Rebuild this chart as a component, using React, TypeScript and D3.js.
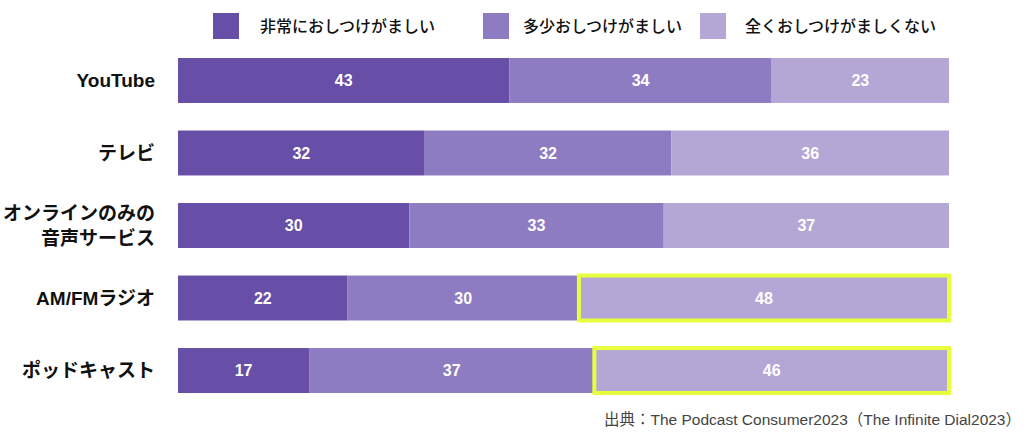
import React from "react";
import * as d3 from "d3";

const categories = ["YouTube", "テレビ", "オンラインのみの\n音声サービス", "AM/FMラジオ", "ポッドキャスト"];
const seriesNames = ["非常におしつけがましい", "多少おしつけがましい", "全くおしつけがましくない"];
const verySeries = [43, 32, 30, 22, 17];
const somewhatSeries = [34, 32, 33, 30, 37];
const notAtAllSeries = [23, 36, 37, 48, 46];
const highlighted = [false, false, false, true, true];
const sourceText = "出典：The Podcast Consumer2023（The Infinite Dial2023）";

const colors = ["#674ea7", "#8e7cc3", "#b4a7d6"];
const legendX = [213, 483, 700];
const FONT = "'Liberation Sans', Arial, 'Noto Sans CJK JP', sans-serif";

export default function App() {
  const W = 1024, H = 442;
  const x = d3.scaleLinear().domain([0, 100]).range([178, 949]);
  const y = d3.scaleBand<string>().domain(categories).range([58, 393]).paddingInner(0.38).paddingOuter(0);
  const series = [verySeries, somewhatSeries, notAtAllSeries];
  const rows = categories.map((c, i) => {
    let acc = 0;
    return series.map((s, k) => {
      const x0 = acc;
      acc += s[i];
      return { k, x0, x1: acc, v: s[i] };
    });
  });
  const bw = y.bandwidth();
  return (
    <svg width={W} height={H} style={{ position: "absolute", left: 0, top: 0, background: "#fff" }} fontFamily={FONT}>
      {seriesNames.map((n, k) => (
        <g key={n}>
          <rect x={legendX[k]} y={13} width={26} height={26} fill={colors[k]} />
          <text x={legendX[k] + (k === 0 ? 47 : k === 1 ? 40 : 45)} y={26} dy="0.35em" fontSize={16} fontWeight={500} fill="#111">{n}</text>
        </g>
      ))}
      {categories.map((c, i) => {
        const y0 = y(c)!;
        const lines = c.split("\n");
        return (
          <g key={c}>
            {lines.map((l, j) => (
              <text key={j} x={155} y={y0 + bw / 2 + (j - (lines.length - 1) / 2) * 25} dy="0.35em" textAnchor="end" fontSize={19} fontWeight="bold" fill="#111">{l}</text>
            ))}
            {rows[i].map((seg) => (
              <g key={seg.k}>
                <rect x={x(seg.x0)} y={y0} width={x(seg.x1) - x(seg.x0)} height={bw} fill={colors[seg.k]} />
                <text x={(x(seg.x0) + x(seg.x1)) / 2} y={y0 + bw / 2} dy="0.35em" textAnchor="middle" fontSize={16} fontWeight="bold" fill="#fff">{seg.v}</text>
              </g>
            ))}
            {highlighted[i] && (
              <rect x={x(rows[i][2].x0)} y={y0} width={x(rows[i][2].x1) - x(rows[i][2].x0)} height={bw} fill="none" stroke="#e8ff3c" strokeWidth={4} />
            )}
          </g>
        );
      })}
      <text x={1021} y={420} dy="0.35em" textAnchor="end" fontSize={15.5} fill="#444">{sourceText}</text>
    </svg>
  );
}
